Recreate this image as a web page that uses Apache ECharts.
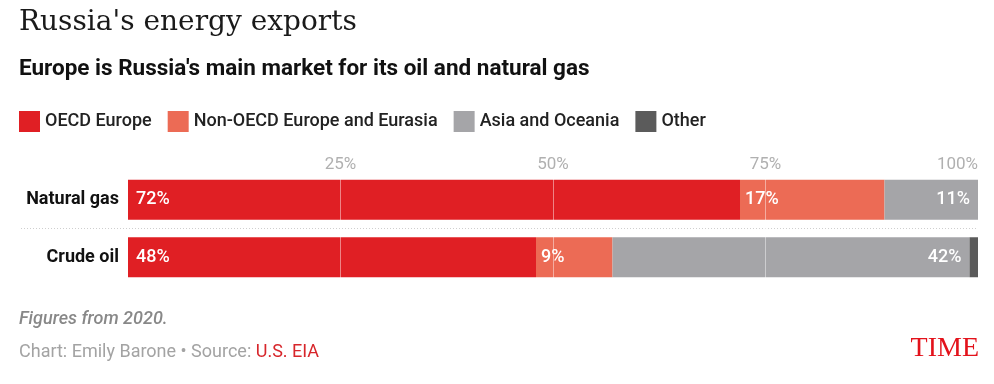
<!DOCTYPE html>
<html>
<head>
<meta charset="utf-8">
<script src="https://cdn.jsdelivr.net/npm/echarts@6/dist/echarts.min.js"></script>
<style>
html,body{margin:0;padding:0;background:#fff;}
#c{width:994px;height:384px;}
</style>
</head>
<body>
<div id="c"></div>
<script>
const categories = ['Natural gas', 'Crude oil'];
const seriesNames = ['OECD Europe', 'Non-OECD Europe and Eurasia', 'Asia and Oceania', 'Other'];
const oecdEurope = [72, 48];
const nonOecdEurasia = [17, 9];
const asiaOceania = [11, 42];
const other = [0, 1];
const ticks = [0, 25, 50, 75, 100];
const colors = ['#e01f24', '#ec6b55', '#a5a5a8', '#5b5b5b'];

const values = [oecdEurope, nonOecdEurasia, asiaOceania, other];
const labelPos = ['insideLeft', 'insideLeft', 'insideRight', null];
const labelDist = [8, 5, 8, 0];

const chart = echarts.init(document.getElementById('c'), null, {renderer: 'canvas'});

const series = values.map((arr, i) => {
  const s = {
    name: seriesNames[i],
    type: 'bar',
    stack: 'total',
    xAxisIndex: 0,
    yAxisIndex: 0,
    barWidth: 40,
    data: arr,
    itemStyle: {color: colors[i]},
    emphasis: {disabled: true},
    label: labelPos[i] ? {
      show: true,
      position: labelPos[i],
      distance: labelDist[i],
      color: '#fff',
      fontFamily: 'Roboto',
      fontSize: 18,
      fontWeight: 500,
      formatter: p => p.value + '%'
    } : {show: false}
  };
  if (i === values.length - 1) {
    s.markLine = {
      silent: true,
      symbol: 'none',
      label: {show: false},
      lineStyle: {color: 'rgba(255,255,255,0.45)', type: 'solid', width: 1},
      data: ticks.filter(t => t > 0 && t < 100).map(t => ({xAxis: t}))
    };
  }
  return s;
});

const option = {
  backgroundColor: '#fff',
  animation: false,
  title: [
    {
      text: "Russia's energy exports",
      left: 19, top: 9, padding: 0,
      textStyle: {fontFamily: 'DejaVu Serif', fontSize: 28, fontWeight: 'normal', color: '#1a1a1a', lineHeight: 28}
    },
    {
      text: "Europe is Russia's main market for its oil and natural gas",
      left: 19, top: 58, padding: 0,
      textStyle: {fontFamily: 'Roboto', fontSize: 22.5, fontWeight: 'bold', color: '#111', lineHeight: 22}
    },
    {
      text: 'Figures from 2020.',
      left: 19, top: 310, padding: 0,
      textStyle: {fontFamily: 'Roboto', fontSize: 18, fontStyle: 'italic', fontWeight: 500, color: '#888', lineHeight: 18}
    },
    {
      text: 'Chart: Emily Barone • Source: {r|U.S. EIA}',
      left: 19, top: 343, padding: 0,
      textStyle: {fontFamily: 'Roboto', fontSize: 18, fontWeight: 'normal', color: '#a3a3a3', lineHeight: 18,
        rich: {r: {fontFamily: 'Roboto', fontSize: 18, color: '#d7262b', lineHeight: 18}}}
    },
    {
      text: 'TIME',
      right: 15, top: 335, padding: 0,
      textStyle: {fontFamily: 'Liberation Serif', fontSize: 28, fontWeight: 'normal', color: '#e3121b', lineHeight: 28}
    }
  ],
  legend: {
    left: 19, top: 111, padding: 0,
    icon: 'rect',
    itemWidth: 21, itemHeight: 21,
    itemGap: 16,
    selectedMode: false,
    data: seriesNames,
    textStyle: {fontFamily: 'Roboto', fontSize: 18, fontWeight: 500, color: '#222', lineHeight: 21}
  },
  grid: [
    {left: 128, right: 16, top: 171, height: 115},
    {left: 21, right: 16, top: 171, height: 115}
  ],
  xAxis: [
    {
      type: 'value', gridIndex: 0, position: 'top',
      min: ticks[0], max: ticks[ticks.length - 1], interval: 25,
      axisLine: {show: false}, axisTick: {show: false},
      splitLine: {show: false},
      axisLabel: {
        show: true, margin: -2,
        fontFamily: 'Roboto', fontSize: 17, color: '#b0b0b0',
        alignMaxLabel: 'right',
        formatter: v => (v === 0 ? '' : v + '%')
      }
    },
    {
      type: 'value', gridIndex: 1, min: 0, max: 1, show: false
    }
  ],
  yAxis: [
    {
      type: 'category', gridIndex: 0, data: categories, inverse: true,
      axisLine: {show: false}, axisTick: {show: false}, splitLine: {show: false},
      axisLabel: {margin: 9, fontFamily: 'Roboto', fontSize: 18, fontWeight: 'bold', color: '#111'}
    },
    {
      type: 'category', gridIndex: 1, data: categories, inverse: true,
      axisLine: {show: false}, axisTick: {show: false}, axisLabel: {show: false},
      splitLine: {show: true, showMinLine: false, showMaxLine: false,
        lineStyle: {color: '#cfcfcf', type: [1, 2], width: 1}}
    }
  ],
  series: series
};

chart.setOption(option);
</script>
</body>
</html>
